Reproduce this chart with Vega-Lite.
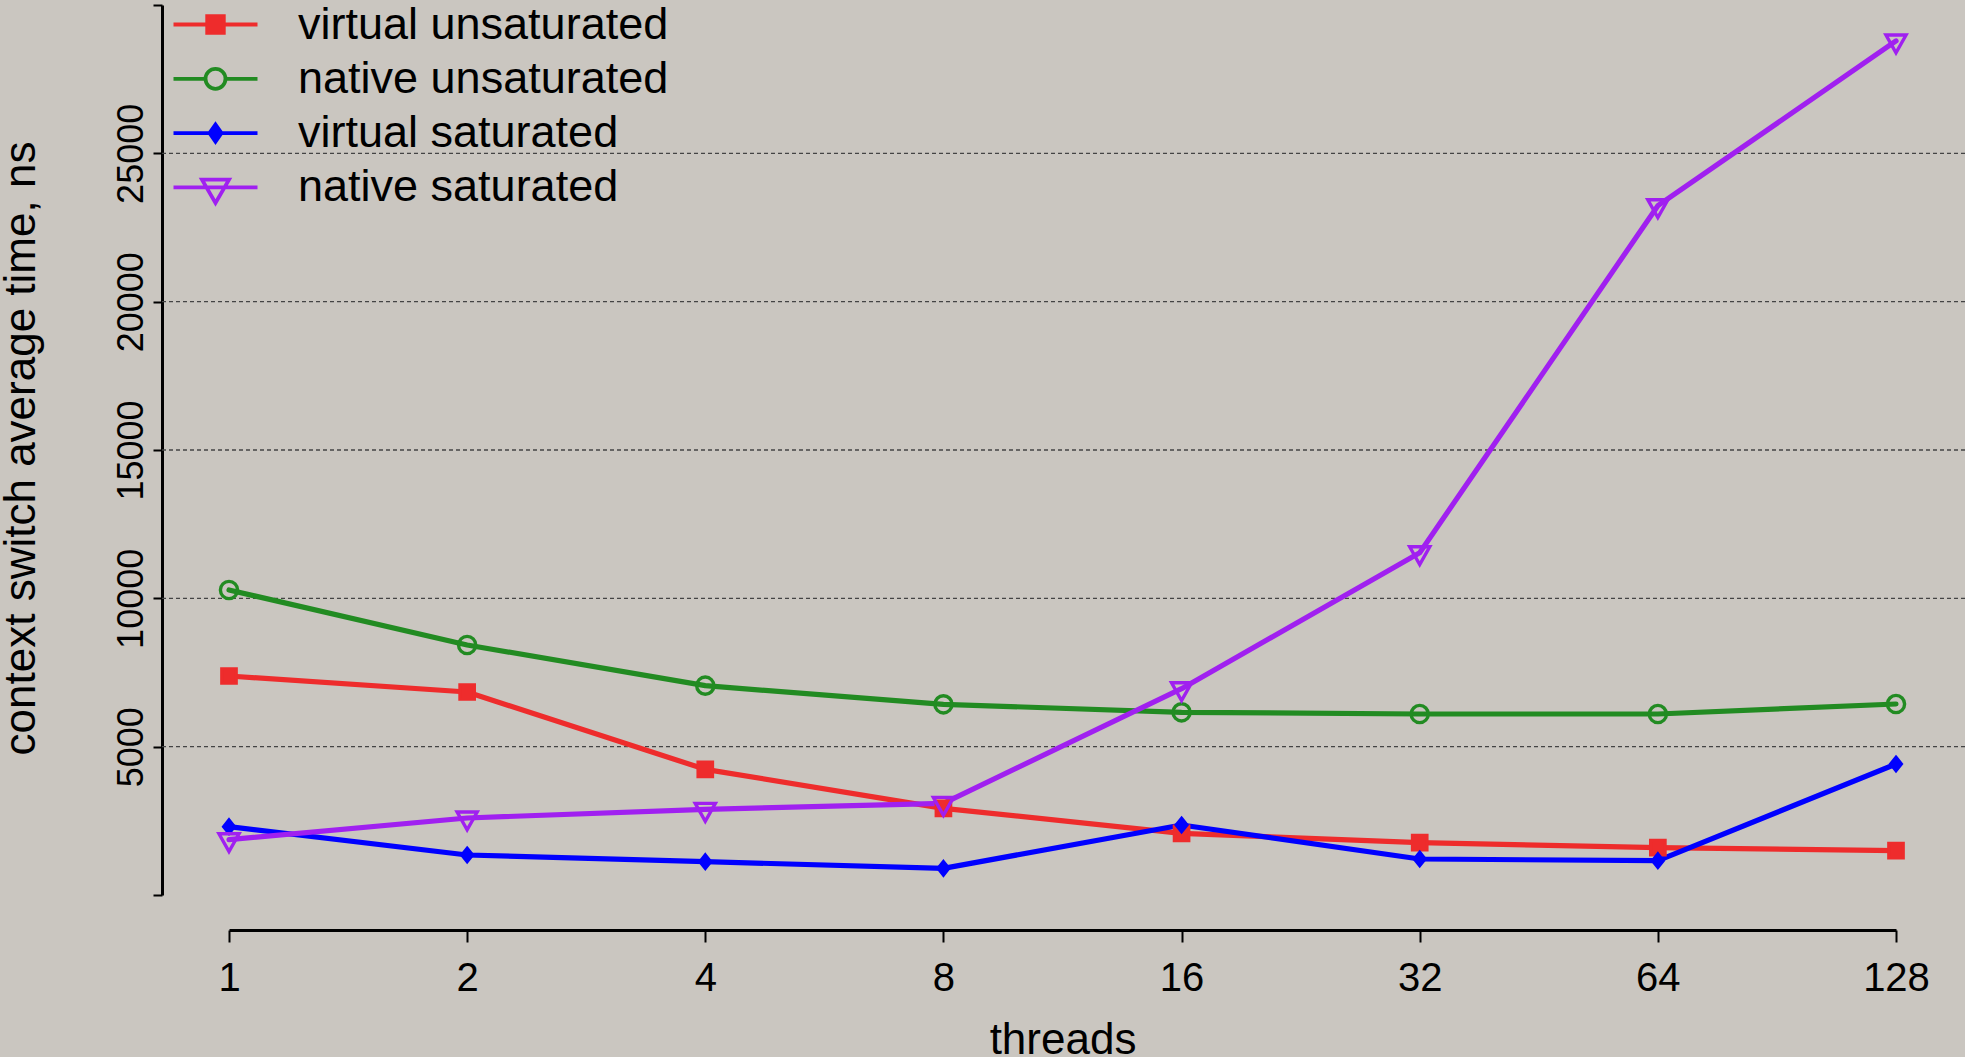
{
  "$schema": "https://vega.github.io/schema/vega-lite/v6.json",
  "width": 1803,
  "height": 890,
  "autosize": {"type": "none"},
  "padding": {"left": 162, "top": 5, "right": 0, "bottom": 162},
  "background": "#cac6c0",
  "config": {
    "view": {"stroke": null},
    "font": "Liberation Sans",
    "legend": {
      "orient": "none",
      "legendX": 31,
      "legendY": -3,
      "padding": 0,
      "rowPadding": 8.3,
      "symbolSize": 400,
      "symbolStrokeWidth": 3.8,
      "symbolOpacity": 1,
      "symbolOffset": 0,
      "labelOffset": 60,
      "labelFontSize": 45,
      "labelColor": "#000000",
      "labelLimit": 2000
    }
  },
  "datasets": {
    "grid": [
      {"level": 5000}, {"level": 10000}, {"level": 15000}, {"level": 20000}, {"level": 25000}
    ],
    "main": [
      {"threads": 1, "time": 7382, "series": "virtual unsaturated"},
      {"threads": 2, "time": 6843, "series": "virtual unsaturated"},
      {"threads": 4, "time": 4236, "series": "virtual unsaturated"},
      {"threads": 8, "time": 2922, "series": "virtual unsaturated"},
      {"threads": 16, "time": 2079, "series": "virtual unsaturated"},
      {"threads": 32, "time": 1764, "series": "virtual unsaturated"},
      {"threads": 64, "time": 1596, "series": "virtual unsaturated"},
      {"threads": 128, "time": 1494, "series": "virtual unsaturated"},
      {"threads": 1, "time": 10281, "series": "native unsaturated"},
      {"threads": 2, "time": 8427, "series": "native unsaturated"},
      {"threads": 4, "time": 7056, "series": "native unsaturated"},
      {"threads": 8, "time": 6427, "series": "native unsaturated"},
      {"threads": 16, "time": 6157, "series": "native unsaturated"},
      {"threads": 32, "time": 6101, "series": "native unsaturated"},
      {"threads": 64, "time": 6101, "series": "native unsaturated"},
      {"threads": 128, "time": 6438, "series": "native unsaturated"},
      {"threads": 1, "time": 2303, "series": "virtual saturated"},
      {"threads": 2, "time": 1348, "series": "virtual saturated"},
      {"threads": 4, "time": 1124, "series": "virtual saturated"},
      {"threads": 8, "time": 899, "series": "virtual saturated"},
      {"threads": 16, "time": 2360, "series": "virtual saturated"},
      {"threads": 32, "time": 1213, "series": "virtual saturated"},
      {"threads": 64, "time": 1157, "series": "virtual saturated"},
      {"threads": 128, "time": 4416, "series": "virtual saturated"},
      {"threads": 1, "time": 1865, "series": "native saturated"},
      {"threads": 2, "time": 2596, "series": "native saturated"},
      {"threads": 4, "time": 2888, "series": "native saturated"},
      {"threads": 8, "time": 3090, "series": "native saturated"},
      {"threads": 16, "time": 6955, "series": "native saturated"},
      {"threads": 32, "time": 11539, "series": "native saturated"},
      {"threads": 64, "time": 23235, "series": "native saturated"},
      {"threads": 128, "time": 28787, "series": "native saturated"}
    ]
  },
  "layer": [
    {
      "data": {"name": "grid"},
      "mark": {"type": "rule", "color": "#444444", "strokeWidth": 1.3, "strokeDash": [4, 3]},
      "encoding": {
        "y": {"field": "level", "type": "quantitative", "scale": {"domain": [0, 30000], "nice": false, "zero": false}}
      }
    },
    {
      "data": {"name": "main"},
      "encoding": {
        "x": {
          "field": "threads",
          "type": "quantitative",
          "scale": {"type": "log", "base": 2, "domain": [1, 128], "range": [67, 1734], "nice": false, "zero": false},
          "axis": {
            "values": [1, 2, 4, 8, 16, 32, 64, 128],
            "format": "d",
            "offset": 35,
            "grid": false,
            "domainColor": "#000000",
            "domainWidth": 3,
            "tickColor": "#000000",
            "tickWidth": 2,
            "tickSize": 12,
            "labelFontSize": 40,
            "labelColor": "#000000",
            "labelPadding": 48,
            "labelBaseline": "alphabetic",
            "labelFlush": false,
            "labelOverlap": false,
            "title": "threads",
            "titleFontSize": 44,
            "titleFontWeight": "normal",
            "titleColor": "#000000",
            "titleBaseline": "alphabetic",
            "titleY": 123
          }
        },
        "y": {
          "field": "time",
          "type": "quantitative",
          "scale": {"domain": [0, 30000], "nice": false, "zero": false},
          "axis": {
            "values": [0, 5000, 10000, 15000, 20000, 25000, 30000],
            "format": "d",
            "labelExpr": "datum.value === 0 || datum.value === 30000 ? '' : datum.label",
            "grid": false,
            "domainColor": "#000000",
            "domainWidth": 3,
            "tickColor": "#000000",
            "tickWidth": 2,
            "tickSize": 9,
            "labelFontSize": 36,
            "labelColor": "#000000",
            "labelAngle": 270,
            "labelAlign": "center",
            "labelBaseline": "alphabetic",
            "labelPadding": 11,
            "labelOverlap": false,
            "labelFlush": false,
            "title": "context switch average time, ns",
            "titleFontSize": 44,
            "titleFontWeight": "normal",
            "titleColor": "#000000",
            "titleAngle": 270,
            "titleAlign": "center",
            "titleBaseline": "alphabetic",
            "titleX": -128,
            "titleY": 443
          }
        }
      },
      "layer": [
        {
          "mark": {"type": "line", "strokeWidth": 5.2, "strokeCap": "round", "strokeJoin": "round", "opacity": 1},
          "encoding": {
            "stroke": {
              "field": "series",
              "type": "nominal",
              "scale": {
                "domain": ["virtual unsaturated", "native unsaturated", "virtual saturated", "native saturated"],
                "range": ["#ee2c2c", "#228b22", "#0000ff", "#a020f0"]
              },
              "legend": null
            }
          }
        },
        {
          "mark": {"type": "point", "size": 700, "strokeWidth": 3.4, "opacity": 1},
          "encoding": {
            "stroke": {
              "field": "series",
              "type": "nominal",
              "scale": {
                "domain": ["virtual unsaturated", "native unsaturated", "virtual saturated", "native saturated"],
                "range": ["#ee2c2c", "#228b22", "#0000ff", "#a020f0"]
              },
              "legend": null
            },
            "fill": {
              "field": "series",
              "type": "nominal",
              "scale": {
                "domain": ["virtual unsaturated", "native unsaturated", "virtual saturated", "native saturated"],
                "range": ["#ee2c2c", "transparent", "#0000ff", "transparent"]
              },
              "legend": null
            },
            "shape": {
              "field": "series",
              "type": "nominal",
              "scale": {
                "domain": ["virtual unsaturated", "native unsaturated", "virtual saturated", "native saturated"],
                "range": [
                  "M-0.54,-0.54H0.54V0.54H-0.54Z",
                  "M0.65,0A0.65,0.65,0,1,1,-0.65,0A0.65,0.65,0,1,1,0.65,0Z",
                  "M0,-0.5L0.4,0L0,0.5L-0.4,0Z",
                  "M-0.76,-0.45H0.76L0,0.9Z"
                ]
              },
              "legend": null
            }
          }
        },
        {
          "mark": {"type": "point", "size": 400, "strokeWidth": 3.8, "opacity": 0},
          "encoding": {
            "stroke": {
              "field": "series",
              "type": "nominal",
              "scale": {
                "domain": ["virtual unsaturated", "native unsaturated", "virtual saturated", "native saturated"],
                "range": ["#ee2c2c", "#228b22", "#0000ff", "#a020f0"]
              },
              "legend": {"title": null}
            },
            "fill": {
              "field": "series",
              "type": "nominal",
              "scale": {
                "domain": ["virtual unsaturated", "native unsaturated", "virtual saturated", "native saturated"],
                "range": ["#ee2c2c", "transparent", "#0000ff", "transparent"]
              },
              "legend": {"title": null}
            },
            "shape": {
              "field": "series",
              "type": "nominal",
              "scale": {
                "domain": ["virtual unsaturated", "native unsaturated", "virtual saturated", "native saturated"],
                "range": [
                  "M-4.2,0H4.2M-0.83,-0.83H0.83V0.83H-0.83Z",
                  "M-4.2,0H-1M1,0H4.2M1,0A1,1,0,1,1,-1,0A1,1,0,1,1,1,0Z",
                  "M-4.2,0H4.2M0,-0.85L0.6,0L0,0.85L-0.6,0Z",
                  "M-4.2,0H4.2M-1.35,-0.78H1.35L0,1.55Z"
                ]
              },
              "legend": {"title": null}
            }
          }
        }
      ],
      "resolve": {"scale": {"stroke": "independent", "fill": "independent", "shape": "independent"}}
    }
  ]
}
